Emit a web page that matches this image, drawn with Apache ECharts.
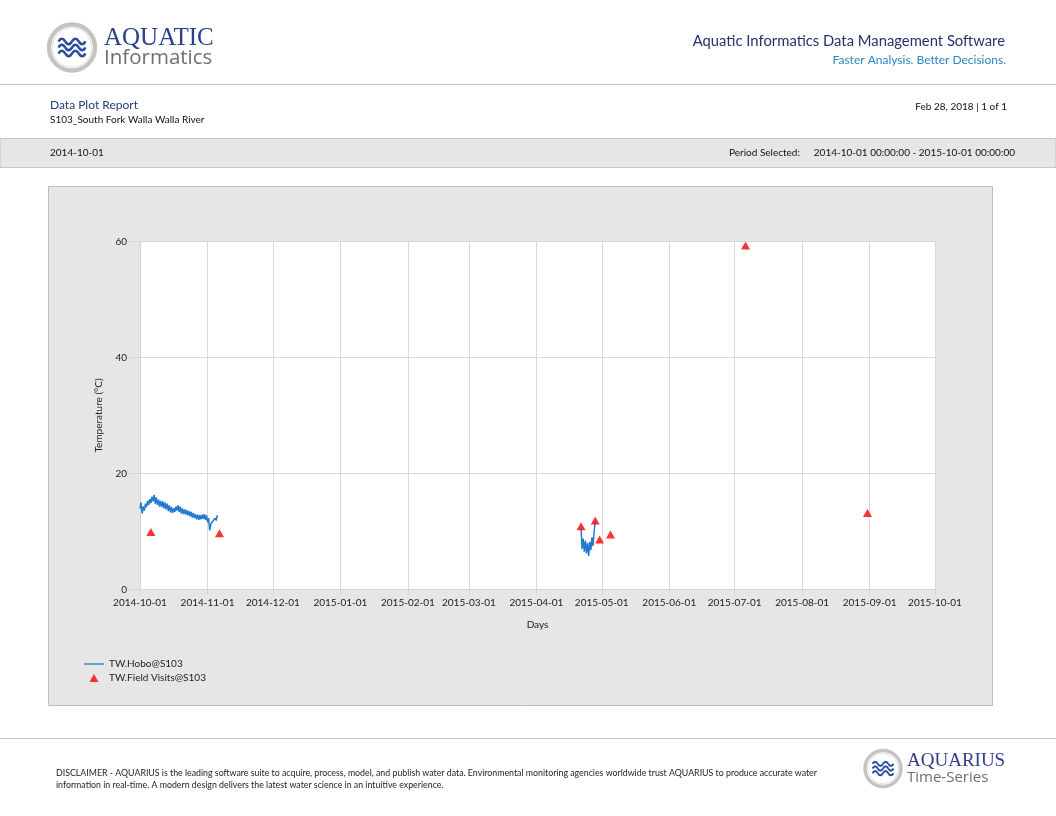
<!DOCTYPE html>
<html>
<head>
<meta charset="utf-8">
<script src="https://cdn.jsdelivr.net/npm/echarts@6/dist/echarts.min.js"></script>
<style>
html,body{margin:0;padding:0;background:#fff;}
#page{width:1056px;height:816px;}
</style>
</head>
<body>
<div id="page"></div>
<script>
// TW.Hobo@S103 readings, one every 12 hours (night low / afternoon high)
var hoboFallStart = '2014-10-01 00:00';
var hoboFallValues = [
  14.0,15.0, 13.1,14.3, 13.6,14.8, 14.2,15.3, 14.6,15.6, 14.9,16.0, 15.2,16.3,
  14.8,15.9, 14.6,15.5, 14.3,15.3, 14.2,15.2, 14.0,15.0, 13.8,14.8, 13.5,14.5,
  13.3,14.2, 13.2,14.0, 13.4,14.3, 13.6,14.5, 13.4,14.3, 13.1,14.0, 13.0,13.8,
  12.9,13.7, 12.8,13.5, 12.6,13.4, 12.4,13.2, 12.3,13.0, 12.1,12.9, 12.0,12.8,
  12.1,12.9, 12.2,13.0, 12.0,12.8, 11.6,12.3, 10.2,11.3, 11.0,11.8, 11.5,12.3,
  11.9,12.8
];
var hoboSpringStart = '2015-04-21 12:00';
var hoboSpringValues = [10.5, 7.0, 8.8, 6.5, 8.4, 6.2, 8.0, 5.8, 8.2, 6.8, 9.0, 7.5, 10.0, 11.7];
var hoboStepHours = 12;

// TW.Field Visits@S103
var visitDates = ['2014-10-06', '2014-11-06 12:00', '2015-04-21 12:00', '2015-04-28', '2015-04-30', '2015-05-05', '2015-07-06', '2015-08-31'];
var visitValues = [9.9, 9.7, 10.9, 11.9, 8.6, 9.5, 59.3, 13.2];

// axis ticks
var tickDates = ['2014-10-01','2014-11-01','2014-12-01','2015-01-01','2015-02-01','2015-03-01','2015-04-01',
  '2015-05-01','2015-06-01','2015-07-01','2015-08-01','2015-09-01','2015-10-01'];
var yTicks = [0, 20, 40, 60];

var disclaimer1 = 'DISCLAIMER - AQUARIUS is the leading software suite to acquire, process, model, and publish water data. Environmental monitoring agencies worldwide trust AQUARIUS to produce accurate water';
var disclaimer2 = 'information in real-time. A modern design delivers the latest water science in an intuitive experience.';

var FONT = 'Lato, "Open Sans", sans-serif';

function ts(s){ return +echarts.time.parse(s); }

function pad(n){ return (n < 10 ? '0' : '') + n; }
function fmtDate(v){
  var d = new Date(v);
  return d.getFullYear() + '-' + pad(d.getMonth() + 1) + '-' + pad(d.getDate());
}

function buildRun(start, values){
  var t0 = ts(start), out = [];
  for (var i = 0; i < values.length; i++) {
    out.push([t0 + i * hoboStepHours * 3600000, values[i]]);
  }
  return out;
}

var hoboData = buildRun(hoboFallStart, hoboFallValues);
hoboData.push([ts('2014-12-01'), null]);
hoboData = hoboData.concat(buildRun(hoboSpringStart, hoboSpringValues));

var visitData = visitDates.map(function(d, i){ return [ts(d), visitValues[i]]; });
var tickValues = tickDates.map(ts);

function txt(x, y, s, size, color, align, family){
  return {type: 'text', silent: true, style: {x: x, y: y, text: s, fill: color,
    font: size + 'px ' + (family || FONT), align: align || 'left', verticalAlign: 'middle'}};
}

function logo(cx, cy, r, waveW){
  var w = waveW, x0 = cx - w / 2, seg = w / 4, els = [];
  els.push({type: 'circle', silent: true, shape: {cx: cx, cy: cy, r: r}, style: {fill: '#fff', stroke: '#c4c4c4', lineWidth: r * 0.19}});
  els.push({type: 'circle', silent: true, shape: {cx: cx, cy: cy, r: r * 0.85}, style: {fill: 'none', stroke: '#e2e2e2', lineWidth: 1}});
  [-r * 0.26, 0, r * 0.26].forEach(function(dy){
    var y = cy + dy, a = r * 0.12;
    for (var k = 0; k < 4; k++) {
      els.push({type: 'bezierCurve', silent: true,
        shape: {x1: x0 + seg * k, y1: y, cpx1: x0 + seg * k + seg / 2, cpy1: y + (k % 2 ? a * 2 : -a * 2), x2: x0 + seg * (k + 1), y2: y},
        style: {fill: 'none', stroke: '#2a4a9c', lineWidth: r * 0.11}});
    }
  });
  return els;
}

var graphics = [
  // chart panel
  {type: 'rect', silent: true, z: -10, shape: {x: 48.5, y: 186.5, width: 944, height: 519}, style: {fill: '#e6e6e6', stroke: '#bdbdbd', lineWidth: 1}},
  // header rule
  {type: 'line', silent: true, shape: {x1: 0, y1: 84.5, x2: 1056, y2: 84.5}, style: {stroke: '#c6c6c6', lineWidth: 1}},
  // period band
  {type: 'rect', silent: true, shape: {x: 0, y: 138.5, width: 1056, height: 29}, style: {fill: '#e6e6e6', stroke: '#c6c6c6', lineWidth: 1}},
  // footer rule
  {type: 'line', silent: true, shape: {x1: 0, y1: 738.5, x2: 1056, y2: 738.5}, style: {stroke: '#c6c6c6', lineWidth: 1}},

  txt(104, 38, 'AQUATIC', 25, '#2b3f8c', 'left', '"Liberation Serif", serif'),
  txt(104, 58, 'Informatics', 20.5, '#6e6e6e', 'left', '"Open Sans", sans-serif'),

  txt(1005, 41, 'Aquatic Informatics Data Management Software', 14.8, '#24336b', 'right'),
  txt(1006, 60, 'Faster Analysis. Better Decisions.', 12, '#2a86bf', 'right'),

  txt(50, 105, 'Data Plot Report', 12, '#24407a'),
  txt(50, 120, 'S103_South Fork Walla Walla River', 10, '#111'),
  txt(1007, 107, 'Feb 28, 2018 | 1 of 1', 10, '#111', 'right'),

  txt(50, 153, '2014-10-01', 10, '#111'),
  txt(729, 153, 'Period Selected:', 10, '#111'),
  txt(1015, 153, '2014-10-01 00:00:00 - 2015-10-01 00:00:00', 10, '#111', 'right'),

  txt(56, 773, disclaimer1, 8.8, '#222'),
  txt(56, 785, disclaimer2, 8.8, '#222'),

  txt(907, 761, 'AQUARIUS', 19, '#2b3f8c', 'left', '"Liberation Serif", serif'),
  txt(907, 778, 'Time-Series', 15, '#6e6e6e', 'left', '"Open Sans", sans-serif')
].concat(logo(72, 47.5, 23, 27)).concat(logo(883, 768.5, 18, 21));

var chart = echarts.init(document.getElementById('page'), null, {renderer: 'canvas', width: 1056, height: 816});

chart.setOption({
  animation: false,
  backgroundColor: '#fff',
  textStyle: {fontFamily: FONT},
  graphic: {z: -1, elements: graphics},
  grid: {left: 140, top: 241.5, width: 795, height: 348, show: true, backgroundColor: '#fff', borderWidth: 0},
  legend: {
    orient: 'vertical', left: 84, top: 659, padding: 0, itemWidth: 20, itemHeight: 8, itemGap: 4,
    textStyle: {fontSize: 10, color: '#222', fontFamily: FONT},
    data: [
      {name: 'TW.Hobo@S103', icon: 'path://M0,0h40v2.6h-40z'},
      {name: 'TW.Field Visits@S103', icon: 'path://M5,0L10,9L0,9Z'}
    ]
  },
  xAxis: {
    type: 'value',
    min: tickValues[0], max: tickValues[tickValues.length - 1],
    name: 'Days', nameLocation: 'middle', nameGap: 30,
    nameTextStyle: {fontSize: 10, color: '#222', fontFamily: FONT},
    axisLine: {show: true, lineStyle: {color: '#d4d4d4'}},
    axisTick: {show: true, length: 5, lineStyle: {color: '#d4d4d4'}, customValues: tickValues},
    axisLabel: {fontSize: 10, color: '#222', margin: 8, customValues: tickValues, formatter: fmtDate},
    splitLine: {show: true, lineStyle: {color: '#d9d9d9'}}
  },
  yAxis: {
    type: 'value', min: yTicks[0], max: yTicks[yTicks.length - 1], interval: yTicks[1] - yTicks[0],
    name: 'Temperature (°C)', nameLocation: 'middle', nameGap: 36, nameRotate: 90,
    nameTextStyle: {fontSize: 10, color: '#222', fontFamily: FONT},
    axisLine: {show: true, lineStyle: {color: '#d4d4d4'}},
    axisTick: {show: true, length: 10, lineStyle: {color: '#d4d4d4'}},
    axisLabel: {fontSize: 10, color: '#222', margin: 13},
    splitLine: {show: true, lineStyle: {color: '#d9d9d9'}}
  },
  series: [
    {
      name: 'TW.Hobo@S103', type: 'line', data: hoboData, showSymbol: false, symbol: 'none',
      connectNulls: false, lineStyle: {color: '#1f7ad0', width: 1.5}, itemStyle: {color: '#1f7ad0'}, z: 2
    },
    {
      name: 'TW.Field Visits@S103', type: 'scatter', data: visitData, symbol: 'triangle', symbolSize: [9, 8],
      itemStyle: {color: '#ff0000'}, z: 3
    }
  ]
});
</script>
</body>
</html>
